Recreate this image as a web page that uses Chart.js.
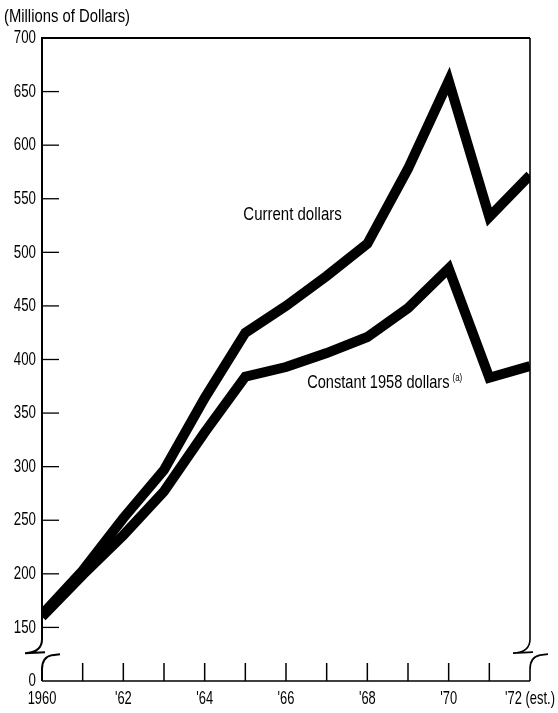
<!DOCTYPE html>
<html>
<head>
<meta charset="utf-8">
<script src="https://cdn.jsdelivr.net/npm/chart.js@4.4.1/dist/chart.umd.min.js"></script>
<style>
  html, body { margin: 0; padding: 0; background: #fff; }
  #wrap { width: 558px; height: 713px; }
</style>
</head>
<body>
<div id="wrap"><canvas id="chart"></canvas></div>
<script>
const years = [1960, 1961, 1962, 1963, 1964, 1965, 1966, 1967, 1968, 1969, 1970, 1971, 1972];
const yearLabels = ['1960', '', "'62", '', "'64", '', "'66", '', "'68", '', "'70", '', "'72 (est.)"];
const currentDollars = [162, 203, 252, 297, 364, 425, 450, 478, 508, 578, 660, 533, 572];
const constantDollars = [160, 199, 236, 277, 332, 384, 393, 406, 421, 448, 485, 383, 394];
const yTicks = [150, 200, 250, 300, 350, 400, 450, 500, 550, 600, 650];

const FONT = "'Liberation Sans', Arial, sans-serif";

// the axis bottom sits at 100 on the scale but is labelled 0 (broken axis)
const AXIS_BASE = 100;
const BREAK_AT = 126;

// condensed look: squeeze text horizontally
function narrowText(ctx, text, x, y, align, sx, size) {
    ctx.save();
    ctx.font = size + 'px ' + FONT;
    ctx.textAlign = align;
    ctx.textBaseline = 'middle';
    ctx.translate(x, y);
    ctx.scale(sx, 1);
    ctx.fillText(text, 0, 0);
    const w = ctx.measureText(text).width * sx;
    ctx.restore();
    return w;
}

const framePlugin = {
    id: 'frame',
    afterDraw(chart) {
        const ctx = chart.ctx;
        const x = chart.scales.x, y = chart.scales.y;
        const L = x.getPixelForValue(0), R = x.getPixelForValue(years.length - 1);
        const T = y.getPixelForValue(700), B = y.getPixelForValue(AXIS_BASE);
        const yb = y.getPixelForValue(BREAK_AT);

        ctx.save();
        ctx.strokeStyle = '#000';
        ctx.fillStyle = '#000';
        ctx.lineCap = 'butt';

        // top border
        ctx.lineWidth = 2;
        ctx.beginPath();
        ctx.moveTo(L - 1, T); ctx.lineTo(R, T);
        ctx.stroke();

        // bottom axis
        ctx.lineWidth = 1.6;
        ctx.beginPath();
        ctx.moveTo(L, B); ctx.lineTo(R, B);
        ctx.stroke();

        // left and right sides with break symbol
        [[L, 2], [R, 1.6]].forEach(([px, w]) => {
            ctx.lineWidth = w;
            ctx.beginPath();
            ctx.moveTo(px, T);
            ctx.lineTo(px, yb - 14);
            ctx.quadraticCurveTo(px, yb - 1, px - 17, yb);
            ctx.moveTo(px - 17, yb);
            ctx.lineTo(px + 3, yb - 1);
            ctx.stroke();

            ctx.beginPath();
            ctx.moveTo(px + 18, yb + 1);
            ctx.lineTo(px + 10, yb + 2);
            ctx.quadraticCurveTo(px, yb + 4, px, yb + 16);
            ctx.lineTo(px, B);
            ctx.stroke();
        });

        // y tick marks, pointing inward
        ctx.lineWidth = 1.3;
        yTicks.forEach(v => {
            const py = y.getPixelForValue(v);
            ctx.beginPath();
            ctx.moveTo(L, py); ctx.lineTo(L + 17, py);
            ctx.stroke();
        });

        // x tick marks, pointing up
        ctx.lineWidth = 1.5;
        for (let i = 1; i < years.length - 1; i++) {
            const px = x.getPixelForValue(i);
            ctx.beginPath();
            ctx.moveTo(px, B); ctx.lineTo(px, B - 18);
            ctx.stroke();
        }
        ctx.restore();

        // tick labels from the scales
        y.ticks.forEach(t => {
            const txt = t.value === AXIS_BASE ? '0' : String(t.value);
            narrowText(ctx, txt, L - 6, y.getPixelForValue(t.value), 'right', 0.7, 19);
        });
        x.getLabels().forEach((lab, i) => {
            if (!lab) return;
            narrowText(ctx, lab, x.getPixelForValue(i), B + 18, 'center', 0.68, 19);
        });

        // titles and line labels
        narrowText(ctx, '(Millions of Dollars)', 4, 17, 'left', 0.78, 19);
        narrowText(ctx, 'Current dollars', x.getPixelForValue(4.95), y.getPixelForValue(535), 'left', 0.79, 19);
        const cx = x.getPixelForValue(6.52), cy = y.getPixelForValue(378);
        const w = narrowText(ctx, 'Constant 1958 dollars', cx, cy, 'left', 0.77, 19);
        narrowText(ctx, '(a)', cx + w + 3, cy - 5, 'left', 0.8, 10);
    }
};

new Chart(document.getElementById('chart'), {
    type: 'line',
    data: {
        labels: yearLabels,
        datasets: [
            {
                label: 'Current dollars',
                data: currentDollars,
                borderColor: '#000',
                borderWidth: 10,
                borderJoinStyle: 'miter',
                pointRadius: 0,
                tension: 0,
                clip: 0
            },
            {
                label: 'Constant 1958 dollars',
                data: constantDollars,
                borderColor: '#000',
                borderWidth: 10,
                borderJoinStyle: 'miter',
                pointRadius: 0,
                tension: 0,
                clip: 0
            }
        ]
    },
    options: {
        responsive: true,
        maintainAspectRatio: false,
        animation: false,
        layout: { padding: { top: 38, right: 28, left: 0, bottom: 0 } },
        plugins: {
            legend: { display: false },
            tooltip: { enabled: false }
        },
        scales: {
            x: {
                offset: false,
                grid: { display: false, drawTicks: false },
                border: { display: false },
                ticks: { display: false, autoSkip: false },
                afterFit(scale) {
                    scale.height = 32;
                    scale.paddingLeft = 0;
                    scale.paddingRight = 0;
                }
            },
            y: {
                min: AXIS_BASE,
                max: 700,
                grid: { display: false, drawTicks: false },
                border: { display: false },
                ticks: { display: false, stepSize: 50 },
                afterFit(scale) {
                    scale.width = 42;
                    scale.paddingTop = 0;
                    scale.paddingBottom = 0;
                }
            }
        }
    },
    plugins: [framePlugin]
});
</script>
</body>
</html>
